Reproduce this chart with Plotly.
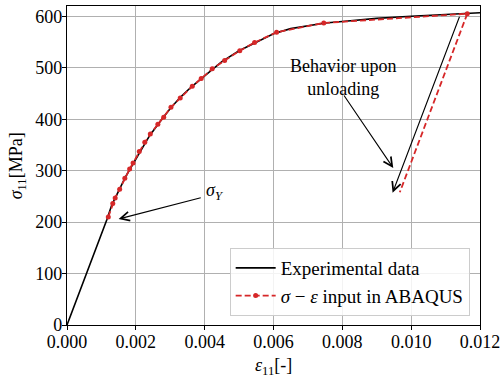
import plotly.graph_objects as go

# Experimental curve
exp_strain = [0, 0.0003, 0.0006, 0.0009, 0.00116, 0.0013, 0.0015, 0.0017, 0.0019, 0.0021,
              0.0024, 0.0027, 0.003, 0.0033, 0.0036, 0.004, 0.0045, 0.005, 0.0055, 0.006,
              0.0065, 0.007, 0.0075, 0.008, 0.009, 0.010, 0.011, 0.012]
exp_stress = [0, 53, 106, 158, 205, 233, 262, 288, 311, 334,
              368, 395, 421, 443, 462, 484, 512, 533, 550, 566,
              576, 582, 587, 590, 596, 600, 603, 607]

# ABAQUS input points
abq_strain = [0.00120, 0.00133, 0.00140, 0.00153, 0.00168, 0.00182, 0.00192, 0.00210,
              0.00226, 0.00242, 0.00264, 0.00281, 0.00302, 0.00329, 0.00364, 0.00390,
              0.00422, 0.00458, 0.00502, 0.00545, 0.00609, 0.00746, 0.01163]
abq_stress = [210, 236, 247, 264, 285, 303, 315, 337,
              355, 371, 390, 404, 423, 441, 464, 479,
              498, 514, 533, 549, 569, 587, 605]

# Unloading lines
unload_red_strain = [0.01163, 0.00967]
unload_red_stress = [605, 258]
unload_black_start = (0.01142, 602)
unload_black_end = (0.00946, 257)

# Annotations
sigy_tip = (0.00150, 206)
sigy_tail = (0.00393, 248)
sigy_text_pos = (0.00397, 259)
beh_tip = (0.00948, 305)
beh_tail = (0.00802, 449)
beh_text_pos = (0.00801, 481)

x_ticks = [0.000, 0.002, 0.004, 0.006, 0.008, 0.010, 0.012]
x_ticklabels = ["0.000", "0.002", "0.004", "0.006", "0.008", "0.010", "0.012"]
y_ticks = [0, 100, 200, 300, 400, 500, 600]

RED = "#d62728"
FONT = "Liberation Serif"

fig = go.Figure()
fig.add_trace(go.Scatter(x=exp_strain, y=exp_stress, mode="lines",
                         line=dict(color="black", width=1.6),
                         name="Experimental data"))
fig.add_trace(go.Scatter(x=abq_strain, y=abq_stress, mode="lines+markers",
                         line=dict(color=RED, width=1.8, dash="6px,3px"),
                         marker=dict(color=RED, size=5),
                         name="<i>σ</i> − <i>ε</i> input in ABAQUS"))
fig.add_trace(go.Scatter(x=unload_red_strain, y=unload_red_stress, mode="lines",
                         line=dict(color=RED, width=1.8, dash="6px,3px"),
                         showlegend=False))

ann = []
arrow_style = dict(xref="x", yref="y", axref="x", ayref="y", text="",
                   showarrow=True, arrowhead=5, arrowsize=1.6, arrowwidth=1.1,
                   arrowcolor="black")
ann.append(dict(x=unload_black_end[0], y=unload_black_end[1],
                ax=unload_black_start[0], ay=unload_black_start[1], **arrow_style))
ann.append(dict(x=sigy_tip[0], y=sigy_tip[1], ax=sigy_tail[0], ay=sigy_tail[1],
                **arrow_style))
ann.append(dict(x=sigy_text_pos[0], y=sigy_text_pos[1], xref="x", yref="y",
                text="<i>σ</i><sub><i>Y</i></sub>", showarrow=False,
                xanchor="left", yanchor="middle",
                font=dict(family=FONT, size=18, color="black")))
ann.append(dict(x=beh_tip[0], y=beh_tip[1], ax=beh_tail[0], ay=beh_tail[1],
                **arrow_style))
ann.append(dict(x=beh_text_pos[0], y=beh_text_pos[1], xref="x", yref="y",
                text="Behavior upon<br>unloading", showarrow=False,
                xanchor="center", yanchor="middle", align="center",
                font=dict(family=FONT, size=18, color="black")))
# axis titles
ann.append(dict(x=0.499, y=-0.131, xref="paper", yref="paper",
                text="<i>ε</i><sub>11</sub>[-]", showarrow=False,
                xanchor="center", yanchor="middle",
                font=dict(family=FONT, size=18, color="black")))
ann.append(dict(x=-0.119, y=0.5, xref="paper", yref="paper",
                text="<i>σ</i><sub>11</sub>[MPa]", showarrow=False, textangle=-90,
                xanchor="center", yanchor="middle",
                font=dict(family=FONT, size=18, color="black")))

fig.update_layout(
    width=501, height=377,
    margin=dict(l=67, r=21, t=6, b=52, autoexpand=False),
    plot_bgcolor="white", paper_bgcolor="white",
    font=dict(family=FONT, size=18, color="black"),
    annotations=ann,
    legend=dict(x=0.975, y=0.028, xanchor="right", yanchor="bottom",
                bgcolor="rgba(255,255,255,0.85)", bordercolor="#cccccc",
                borderwidth=1, font=dict(family=FONT, size=19, color="black"),
                itemwidth=40),
)
common = dict(showgrid=True, gridcolor="#b0b0b0", gridwidth=1,
              showline=True, linecolor="black", linewidth=1.3, mirror=True,
              ticks="outside", ticklen=4, tickcolor="black", zeroline=False,
              automargin=False, ticklabelstandoff=-4,
              tickfont=dict(family=FONT, size=18, color="black"))
fig.update_xaxes(range=[0, 0.012], tickvals=x_ticks, ticktext=x_ticklabels, **common)
fig.update_yaxes(range=[0, 620], tickvals=y_ticks, **common)

fig.write_html("out.html", config={"displayModeBar": False},
               post_script="document.body.style.margin='0px';document.body.style.padding='0px';")
